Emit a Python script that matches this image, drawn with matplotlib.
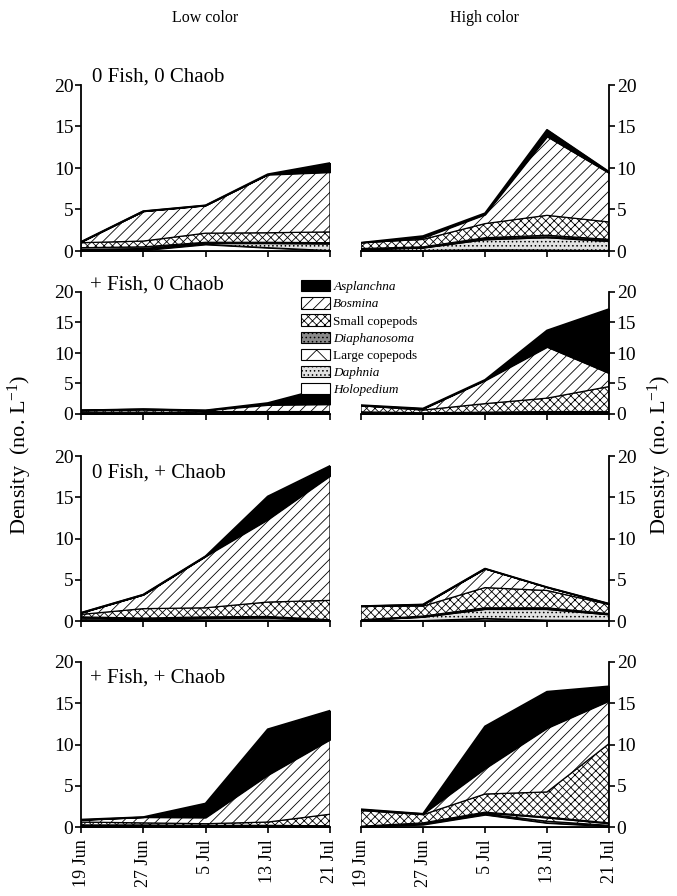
import numpy as np
import matplotlib
matplotlib.use("Agg")
import matplotlib.pyplot as plt
from matplotlib.patches import Patch

plt.rcParams['font.family'] = ['Liberation Serif', 'DejaVu Serif']
plt.rcParams['mathtext.fontset'] = 'custom'
plt.rcParams['mathtext.rm'] = 'Liberation Serif'
plt.rcParams['mathtext.it'] = 'Liberation Serif:italic'
plt.rcParams['hatch.linewidth'] = 0.6

# ---------------- data ----------------
dates = ['19 Jun', '27 Jun', '5 Jul', '13 Jul', '21 Jul']
species = ['Holopedium', 'Daphnia', 'Large copepods', 'Diaphanosoma',
           'Small copepods', 'Bosmina', 'Asplanchna']   # bottom -> top
treatments = ['0 Fish, 0 Chaob', '+ Fish, 0 Chaob', '0 Fish, + Chaob', '+ Fish, + Chaob']
col_titles = ['Low color', 'High color']
yticks = [0, 5, 10, 15, 20]

low_0fish_0chaob = {
    'Holopedium':     [0.00, 0.10, 0.80, 0.40, 0.05],
    'Daphnia':        [0.05, 0.10, 0.10, 0.50, 0.80],
    'Large copepods': [0.10, 0.10, 0.05, 0.05, 0.05],
    'Diaphanosoma':   [0.25, 0.20, 0.10, 0.10, 0.10],
    'Small copepods': [0.60, 0.70, 1.10, 1.15, 1.30],
    'Bosmina':        [0.10, 3.60, 3.35, 7.00, 7.20],
    'Asplanchna':     [0.00, 0.00, 0.00, 0.05, 1.10],
}
high_0fish_0chaob = {
    'Holopedium':     [0.05, 0.05, 0.15, 0.10, 0.05],
    'Daphnia':        [0.10, 0.30, 1.20, 1.50, 1.10],
    'Large copepods': [0.05, 0.05, 0.10, 0.10, 0.10],
    'Diaphanosoma':   [0.10, 0.10, 0.15, 0.20, 0.15],
    'Small copepods': [0.70, 0.90, 1.70, 2.40, 2.10],
    'Bosmina':        [0.00, 0.20, 1.10, 9.50, 5.90],
    'Asplanchna':     [0.00, 0.20, 0.15, 0.80, 0.15],
}
low_fish_0chaob = {
    'Holopedium':     [0.05, 0.05, 0.05, 0.05, 0.05],
    'Daphnia':        [0.05, 0.05, 0.05, 0.05, 0.05],
    'Large copepods': [0.10, 0.10, 0.05, 0.05, 0.05],
    'Diaphanosoma':   [0.10, 0.10, 0.05, 0.05, 0.05],
    'Small copepods': [0.30, 0.40, 0.20, 0.20, 0.20],
    'Bosmina':        [0.00, 0.10, 0.20, 1.10, 1.20],
    'Asplanchna':     [0.00, 0.00, 0.00, 0.30, 2.90],
}
high_fish_0chaob = {
    'Holopedium':     [0.05, 0.05, 0.05, 0.05, 0.05],
    'Daphnia':        [0.10, 0.05, 0.10, 0.15, 0.15],
    'Large copepods': [0.10, 0.05, 0.10, 0.10, 0.10],
    'Diaphanosoma':   [0.10, 0.05, 0.05, 0.10, 0.10],
    'Small copepods': [1.00, 0.45, 1.40, 2.20, 4.10],
    'Bosmina':        [0.05, 0.20, 3.80, 8.40, 2.20],
    'Asplanchna':     [0.05, 0.05, 0.10, 2.70, 10.50],
}
low_0fish_chaob = {
    'Holopedium':     [0.05, 0.05, 0.10, 0.10, 0.02],
    'Daphnia':        [0.10, 0.10, 0.20, 0.25, 0.05],
    'Large copepods': [0.20, 0.10, 0.10, 0.10, 0.05],
    'Diaphanosoma':   [0.15, 0.10, 0.10, 0.10, 0.03],
    'Small copepods': [0.30, 1.15, 1.10, 1.75, 2.35],
    'Bosmina':        [0.20, 1.70, 6.25, 10.00, 15.10],
    'Asplanchna':     [0.00, 0.00, 0.00, 2.80, 1.20],
}
high_0fish_chaob = {
    'Holopedium':     [0.02, 0.05, 0.30, 0.10, 0.05],
    'Daphnia':        [0.05, 0.40, 1.10, 1.30, 0.70],
    'Large copepods': [0.03, 0.05, 0.10, 0.10, 0.05],
    'Diaphanosoma':   [0.05, 0.10, 0.10, 0.10, 0.10],
    'Small copepods': [1.65, 1.20, 2.45, 2.10, 1.10],
    'Bosmina':        [0.00, 0.20, 2.30, 0.40, 0.10],
    'Asplanchna':     [0.00, 0.00, 0.00, 0.00, 0.00],
}
low_fish_chaob = {
    'Holopedium':     [0.05, 0.05, 0.05, 0.02, 0.02],
    'Daphnia':        [0.05, 0.05, 0.05, 0.03, 0.03],
    'Large copepods': [0.10, 0.10, 0.05, 0.10, 0.05],
    'Diaphanosoma':   [0.05, 0.05, 0.05, 0.05, 0.05],
    'Small copepods': [0.35, 0.25, 0.20, 0.40, 1.40],
    'Bosmina':        [0.25, 0.70, 0.75, 5.70, 9.05],
    'Asplanchna':     [0.05, 0.00, 1.70, 5.55, 3.50],
}
high_fish_chaob = {
    'Holopedium':     [0.02, 0.30, 1.50, 0.50, 0.10],
    'Daphnia':        [0.02, 0.05, 0.10, 0.20, 0.10],
    'Large copepods': [0.03, 0.10, 0.10, 0.40, 0.20],
    'Diaphanosoma':   [0.03, 0.05, 0.10, 0.10, 0.10],
    'Small copepods': [1.90, 1.00, 2.20, 3.05, 9.60],
    'Bosmina':        [0.10, 0.10, 3.10, 7.75, 5.20],
    'Asplanchna':     [0.05, 0.00, 5.10, 4.40, 1.75],
}

panels = [[low_0fish_0chaob, high_0fish_0chaob],
          [low_fish_0chaob, high_fish_0chaob],
          [low_0fish_chaob, high_0fish_chaob],
          [low_fish_chaob, high_fish_chaob]]

# ---------------- styles ----------------
styles = {
    'Holopedium':     dict(facecolor='white', hatch=None),
    'Daphnia':        dict(facecolor='#e2e2e2', hatch='....'),
    'Large copepods': dict(facecolor='white', hatch='x'),
    'Diaphanosoma':   dict(facecolor='#8a8a8a', hatch='....'),
    'Small copepods': dict(facecolor='white', hatch='xxxx'),
    'Bosmina':        dict(facecolor='white', hatch='///'),
    'Asplanchna':     dict(facecolor='black', hatch=None),
}
italic = {'Holopedium', 'Daphnia', 'Diaphanosoma', 'Bosmina', 'Asplanchna'}

W, H = 677, 896
fig = plt.figure(figsize=(W / 100, H / 100), dpi=100)

col_x = [(81, 330), (361, 609)]
row_y = [(85, 251), (292, 414), (456, 621), (662, 827)]
label_pos = [(0.044, 1.05), (0.036, 1.057), (0.044, 0.897), (0.036, 0.903)]

x = np.arange(len(dates))
TICK_FS = 14
XTICK_FS = 13
LAB_FS = 15

for r, (yt, yb) in enumerate(row_y):
    for c, (xl, xr) in enumerate(col_x):
        ax = fig.add_axes([xl / W, 1 - yb / H, (xr - xl) / W, (yb - yt) / H])
        data = panels[r][c]
        base = np.zeros(len(dates))
        for sp in species:
            top = base + np.array(data[sp])
            st = styles[sp]
            ax.fill_between(x, base, top, facecolor=st['facecolor'], hatch=st['hatch'],
                            edgecolor='black', linewidth=0.9, zorder=2)
            base = top
        ax.plot(x, base, color='black', linewidth=1.3, zorder=3)
        ax.set_xlim(0, len(dates) - 1)
        ax.set_ylim(0, 20)
        ax.set_yticks(yticks)
        ax.set_xticks(x)
        ax.patch.set_visible(False)
        ax.spines['top'].set_visible(False)
        if c == 0:
            ax.spines['right'].set_visible(False)
        else:
            ax.spines['left'].set_visible(False)
            ax.yaxis.tick_right()
        for s in ['left', 'right', 'bottom']:
            ax.spines[s].set_linewidth(1.3)
            ax.spines[s].set_zorder(4)
        ax.tick_params(direction='out', length=4, width=1.2, labelsize=TICK_FS, pad=1.5)
        ax.tick_params(axis='x', pad=5, labelsize=XTICK_FS)
        if r == len(row_y) - 1:
            ax.set_xticklabels(dates, rotation=90)
        else:
            ax.set_xticklabels([])
        if c == 0:
            lx, ly = label_pos[r]
            ax.text(lx, ly, treatments[r], transform=ax.transAxes, fontsize=LAB_FS,
                    ha='left', va='center')
        if r == 0:
            ax.text(0.5, (yb - 18) / (yb - yt), col_titles[c], transform=ax.transAxes,
                    fontsize=11.5, ha='center', va='center')

# y labels
ylab = 'Density  (no. L$^{-1}$)'
fig.text(20 / W, 1 - 455 / H, ylab, rotation=90, ha='center', va='center', fontsize=16)
fig.text(660 / W, 1 - 455 / H, ylab, rotation=90, ha='center', va='center', fontsize=16)

# legend
handles = []
for sp in species[::-1]:
    st = styles[sp]
    handles.append(Patch(facecolor=st['facecolor'], hatch=st['hatch'],
                         edgecolor='black', linewidth=0.8, label=sp))
leg = fig.legend(handles=handles, loc='upper left', bbox_to_anchor=(301 / W, 1 - 280 / H),
                 frameon=False, fontsize=9.5, handlelength=2.2, handleheight=0.95,
                 handletextpad=0.25, labelspacing=0.3, borderpad=0, borderaxespad=0)
for t in leg.get_texts():
    if t.get_text() in italic:
        t.set_fontstyle('italic')

fig.savefig('out.png', dpi=100)
